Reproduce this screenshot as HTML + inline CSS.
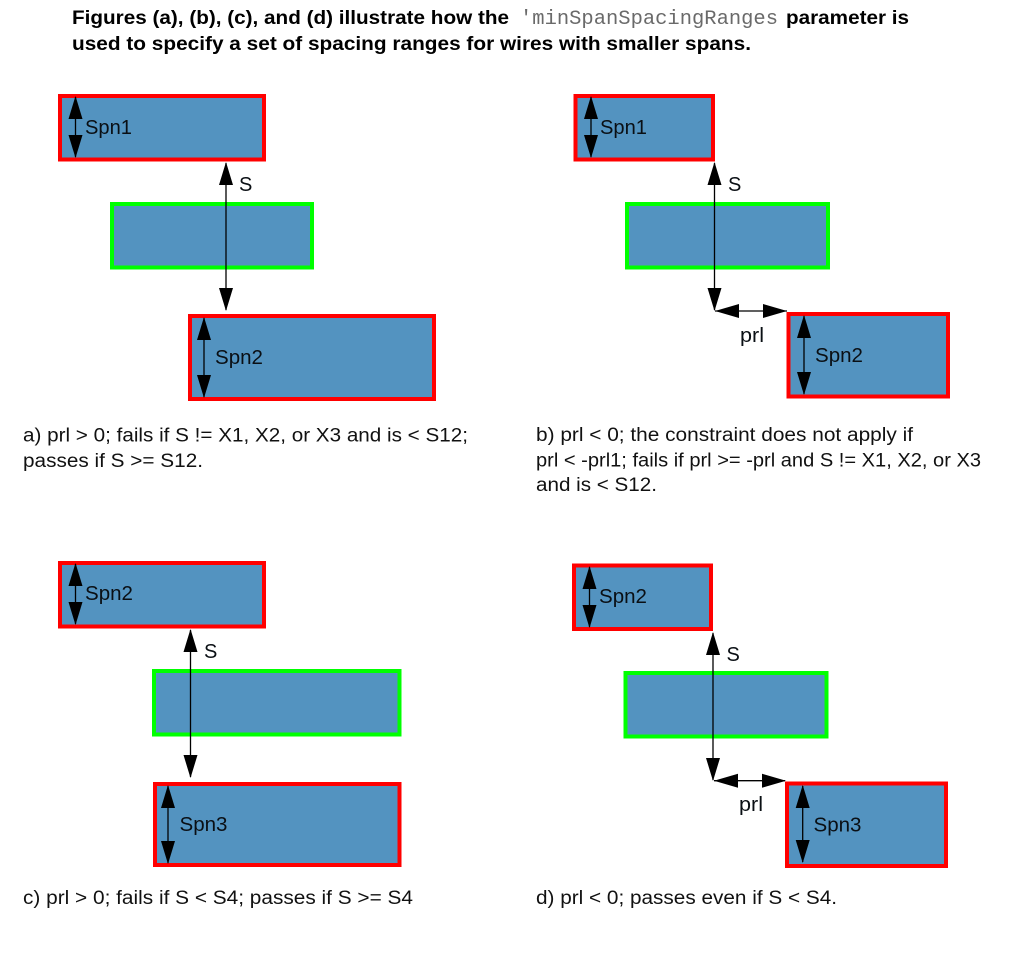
<!DOCTYPE html>
<html><head><meta charset="utf-8"><style>
html,body{margin:0;padding:0;background:#fff;width:1013px;height:953px;overflow:hidden}
svg{display:block}
text{font-family:"Liberation Sans",Arial,sans-serif;fill:#000}
.t{font-weight:bold;font-size:19px}
.c{font-size:19px;fill:#111}
.l{font-size:20px;fill:#0a0f14}
.m{font-family:"Liberation Mono",monospace;font-size:20px;fill:#6a6a6a}
.r{fill:#5393c0;stroke:#f00;stroke-width:4}
.g{fill:#5393c0;stroke:#0f0;stroke-width:4}
.ln{stroke:#000;stroke-width:1.3;fill:none}
</style></head><body>
<svg width="1013" height="953" viewBox="0 0 1013 953" xmlns="http://www.w3.org/2000/svg">
<text class="t" x="72" y="24" textLength="437" lengthAdjust="spacingAndGlyphs">Figures (a), (b), (c), and (d) illustrate how the</text>
<text class="m" x="520" y="24" textLength="258" lengthAdjust="spacingAndGlyphs">'minSpanSpacingRanges</text>
<text class="t" x="786" y="24" textLength="123" lengthAdjust="spacingAndGlyphs">parameter is</text>
<text class="t" x="72" y="50" textLength="679" lengthAdjust="spacingAndGlyphs">used to specify a set of spacing ranges for wires with smaller spans.</text>

<!-- a -->
<rect class="r" x="60" y="96" width="204" height="63.5"/>
<rect class="g" x="112" y="204" width="200" height="63.5"/>
<rect class="r" x="190" y="316" width="244" height="83"/>
<path class="ln" d="M75.5 97V157M226 163V310M204 318V397"/>
<path d="M75.500 96l7 23h-14zM75.500 158l7-23h-14zM226 162l7 23h-14zM226 311l7-23h-14zM204 317l7 23h-14zM204 398l7-23h-14z"/>
<text class="l" x="85" y="134" textLength="47" lengthAdjust="spacingAndGlyphs">Spn1</text>
<text class="l" x="239" y="191">S</text>
<text class="l" x="215" y="364" textLength="48" lengthAdjust="spacingAndGlyphs">Spn2</text>
<text class="c" x="23" y="441.5" textLength="445" lengthAdjust="spacingAndGlyphs">a) prl &gt; 0; fails if S != X1, X2, or X3 and is &lt; S12;</text>
<text class="c" x="23" y="467" textLength="180" lengthAdjust="spacingAndGlyphs">passes if S &gt;= S12.</text>

<!-- b -->
<rect class="r" x="575.5" y="96" width="137.5" height="63.5"/>
<rect class="g" x="627" y="204" width="201" height="63.5"/>
<rect class="r" x="788.5" y="314" width="159.5" height="82.5"/>
<path class="ln" d="M591 97V157M714.5 163V310M715 311H787M804 316V394"/>
<path d="M591 96l7 23h-14zM591 158l7-23h-14zM714.500 162l7 23h-14zM714.500 311l7-23h-14zM715 311l24-7v14zM787 311l-24-7v14zM804 315l7 23h-14zM804 395l7-23h-14z"/>
<text class="l" x="600" y="134" textLength="47" lengthAdjust="spacingAndGlyphs">Spn1</text>
<text class="l" x="728" y="191">S</text>
<text class="l" x="740" y="342" textLength="24" lengthAdjust="spacingAndGlyphs">prl</text>
<text class="l" x="815" y="362" textLength="48" lengthAdjust="spacingAndGlyphs">Spn2</text>
<text class="c" x="536" y="441" textLength="377" lengthAdjust="spacingAndGlyphs">b) prl &lt; 0; the constraint does not apply if</text>
<text class="c" x="536" y="466.500" textLength="445" lengthAdjust="spacingAndGlyphs">prl &lt; -prl1; fails if prl &gt;= -prl and S != X1, X2, or X3</text>
<text class="c" x="536" y="491" textLength="121" lengthAdjust="spacingAndGlyphs">and is &lt; S12.</text>

<!-- c -->
<rect class="r" x="60" y="563" width="204" height="63.5"/>
<rect class="g" x="154" y="671" width="245.500" height="63.5"/>
<rect class="r" x="155" y="784" width="244.500" height="81"/>
<path class="ln" d="M75.500 564V624M190.500 630V777M168 786V863"/>
<path d="M75.500 563l7 23h-14zM75.500 625l7-23h-14zM190.500 629l7 23h-14zM190.500 778l7-23h-14zM168 785l7 23h-14zM168 864l7-23h-14z"/>
<text class="l" x="85" y="600" textLength="48" lengthAdjust="spacingAndGlyphs">Spn2</text>
<text class="l" x="204" y="658">S</text>
<text class="l" x="179.500" y="831" textLength="48" lengthAdjust="spacingAndGlyphs">Spn3</text>
<text class="c" x="23" y="904" textLength="390" lengthAdjust="spacingAndGlyphs">c) prl &gt; 0; fails if S &lt; S4; passes if S &gt;= S4</text>

<!-- d -->
<rect class="r" x="574" y="565.500" width="137" height="63.500"/>
<rect class="g" x="625.500" y="673" width="201" height="63.500"/>
<rect class="r" x="787" y="783.500" width="159" height="82.500"/>
<path class="ln" d="M589.500 567V627M713 633V780M714 780.700H785M802.700 786V862"/>
<path d="M589.500 566l7 23h-14zM589.500 628l7-23h-14zM713 632l7 23h-14zM713 781l7-23h-14zM714 780.700l24-7v14zM786 780.700l-24-7v14zM802.700 785l7 23h-14zM802.700 863l7-23h-14z"/>
<text class="l" x="599" y="603" textLength="48" lengthAdjust="spacingAndGlyphs">Spn2</text>
<text class="l" x="726.500" y="661">S</text>
<text class="l" x="739" y="811" textLength="24" lengthAdjust="spacingAndGlyphs">prl</text>
<text class="l" x="813.500" y="831.500" textLength="48" lengthAdjust="spacingAndGlyphs">Spn3</text>
<text class="c" x="536" y="904" textLength="301" lengthAdjust="spacingAndGlyphs">d) prl &lt; 0; passes even if S &lt; S4.</text>
</svg>
</body></html>
